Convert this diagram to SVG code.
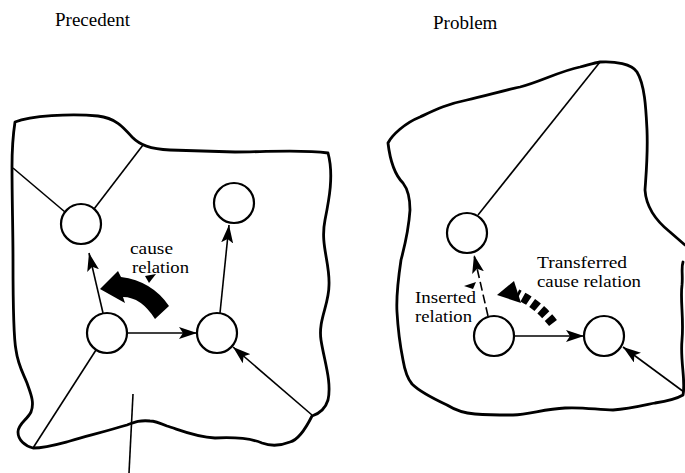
<svg xmlns="http://www.w3.org/2000/svg" width="685" height="473" viewBox="0 0 685 473">
  <style>
    .blob { fill: none; stroke: #000; stroke-width: 2.8; stroke-linejoin: round; stroke-linecap: round; }
    .node circle { fill: #fff; stroke: #000; stroke-width: 2.2; }
    .edge { fill: none; stroke: #000; stroke-width: 1.6; }
    .arrow { marker-end: url(#head); }
    .dashed { stroke-dasharray: 9 4; }
    .label { font-family: "Liberation Serif", "Times New Roman", serif; font-size: 17px; fill: #000; }
    .title { font-family: "Liberation Serif", "Times New Roman", serif; font-size: 19px; fill: #000; }
    .solid { fill: #000; stroke: none; }
  </style>
  <defs>
    <marker id="head" markerUnits="userSpaceOnUse" markerWidth="19" markerHeight="12" refX="18" refY="6" orient="auto">
      <path d="M0,0 L18,6 L0,12 L4,6 Z" fill="#000"/>
    </marker>
  </defs>
  <rect width="685" height="473" fill="#fff"/>

  <!-- titles -->
  <text class="title" x="55" y="26">Precedent</text>
  <text class="title" x="433" y="29">Problem</text>

  <!-- outlines of the two regions -->
  <g id="precedent-region">
    <path class="blob" d="M15,122 C30,116 70,113 98,116 C116,118 124,128 132,137 C140,145 150,149 170,150 L235,152 C270,152 300,149 328,153 C334,175 329,200 325,220 C320,245 330,262 329,285 C329,305 318,320 321,340 C324,360 332,382 328,400 C325,410 318,414 312,416 C305,430 298,440 290,442 C280,446 270,446 262,443 C250,438 235,437 215,438 C195,437 180,430 167,426 C160,423 155,421 150,421 C140,420 135,422 127,425 C110,430 95,434 70,441 C55,445 45,448 33,448 C25,446 18,440 18,432 C18,424 27,420 31,412 C35,402 30,392 27,383 C23,373 18,365 16,350 C13,335 13,300 13,260 C13,230 12,200 12,167 C12,150 13,135 15,122 Z"/>
  </g>
  <g id="problem-region">
    <path class="blob" d="M685,245 L670,232 C655,220 646,205 645,190 C646,175 648,155 647,130 C646,110 645,85 637,72 C632,64 615,61 600,62 C594,63 588,65 580,67 C560,71 540,82 520,87 C505,90 485,96 467,100 C447,104 435,110 420,117 C405,123 392,135 388,143 C390,160 395,175 403,183 C410,192 410,205 410,210 C409,225 405,245 401,260 C398,280 396,295 397,312 C398,330 400,345 403,360 C405,372 407,378 412,384 C420,392 432,398 447,405 C455,410 462,413 475,414 C490,415 500,415 513,415 C530,414 545,409 565,408 C585,407 598,410 613,410 C630,409 645,405 655,403 C668,401 678,398 683,395 C686,380 680,362 682,340 C684,318 680,300 682,285 C683,275 681,268 683,262"/>
  </g>

  <!-- connectors -->
  <g id="connectors">
    <!-- precedent -->
    <line class="edge" x1="13" y1="168" x2="65" y2="212"/>
    <line class="edge" x1="94" y1="209" x2="143" y2="145"/>
    <line class="edge arrow" x1="103" y1="313" x2="89" y2="253"/>
    <line class="edge arrow" x1="127" y1="333" x2="197" y2="333"/>
    <line class="edge arrow" x1="220" y1="313" x2="229" y2="225"/>
    <line class="edge arrow" x1="312" y1="415" x2="233" y2="347"/>
    <line class="edge" x1="96" y1="350" x2="33" y2="448"/>
    <line class="edge" x1="133" y1="394" x2="129" y2="473"/>
    <!-- cause relation: thick curved arrow -->
    <path class="solid" d="M169,306 Q152,281 121,277 L118,271 L100,289 L125,303 L123,297 Q141,297 155,319 Z"/>
    <path class="solid" d="M145,276 L156,274 L149,283 Z"/>

    <!-- problem -->
    <line class="edge" x1="478" y1="215" x2="600" y2="62"/>
    <line class="edge arrow dashed" x1="488" y1="316" x2="474" y2="255"/>
    <line class="edge arrow" x1="514" y1="336" x2="584" y2="336"/>
    <line class="edge arrow" x1="684" y1="392" x2="623" y2="347"/>
    <!-- transferred cause relation: broken thick arrow -->
    <path d="M553,323 Q538,304 517,294" fill="none" stroke="#000" stroke-width="10" stroke-dasharray="7 4"/>
    <path class="solid" d="M497,295 L514,281 L521,303 Z"/>
    <path class="solid" d="M464,286 L476,282 L473,289 Z"/>
  </g>

  <!-- nodes -->
  <g id="p-upper-left" class="node"><circle cx="81" cy="224" r="20"/></g>
  <g id="p-upper-right" class="node"><circle cx="234" cy="203" r="20"/></g>
  <g id="p-lower-left" class="node"><circle cx="107" cy="333" r="20"/></g>
  <g id="p-lower-right" class="node"><circle cx="217" cy="333" r="20"/></g>
  <g id="q-upper" class="node"><circle cx="467" cy="233" r="20"/></g>
  <g id="q-lower-left" class="node"><circle cx="494" cy="336" r="20"/></g>
  <g id="q-lower-right" class="node"><circle cx="604" cy="336" r="20"/></g>

  <!-- labels -->
  <text class="label" x="130" y="254" textLength="43" lengthAdjust="spacingAndGlyphs">cause</text>
  <text class="label" x="132" y="273" textLength="57" lengthAdjust="spacingAndGlyphs">relation</text>
  <text class="label" x="537" y="268" textLength="90" lengthAdjust="spacingAndGlyphs">Transferred</text>
  <text class="label" x="537" y="287" textLength="104" lengthAdjust="spacingAndGlyphs">cause relation</text>
  <text class="label" x="415" y="303" textLength="61" lengthAdjust="spacingAndGlyphs">Inserted</text>
  <text class="label" x="415" y="322" textLength="57" lengthAdjust="spacingAndGlyphs">relation</text>
</svg>
